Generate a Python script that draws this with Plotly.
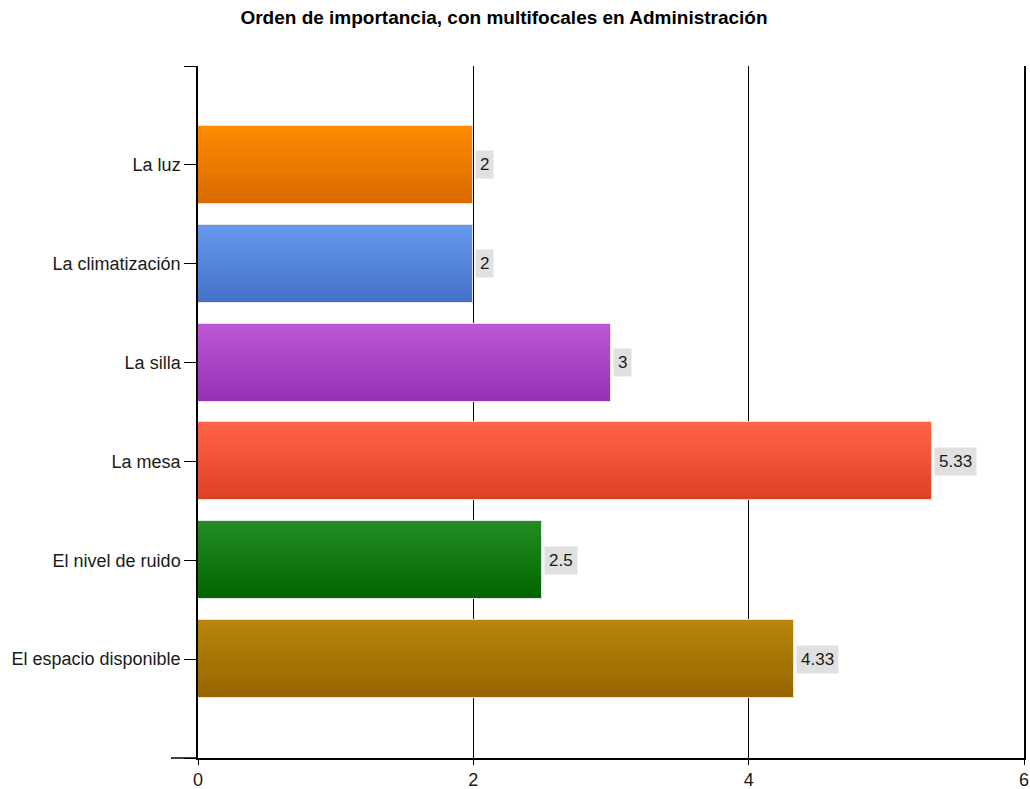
import plotly.graph_objects as go

categories = ["La luz", "La climatización", "La silla", "La mesa", "El nivel de ruido", "El espacio disponible"]
values = [2, 2, 3, 5.33, 2.5, 4.33]
top_colors = ["#ff8c00", "#6699ee", "#bb58d6", "#ff6448", "#238c23", "#b8860b"]
bottom_colors = ["#d96800", "#4470c8", "#9630b4", "#dc4024", "#006400", "#966400"]
x_ticks = [0, 2, 4, 6]

def hex2rgb(h):
    h = h.lstrip("#")
    return tuple(int(h[i:i + 2], 16) for i in (0, 2, 4))

def mix(c1, c2, t):
    a, b = hex2rgb(c1), hex2rgb(c2)
    return "rgb(%d,%d,%d)" % tuple(round(a[i] + (b[i] - a[i]) * t) for i in range(3))

idx = list(range(len(categories)))
BW = 0.79
N = 16
fig = go.Figure()
for k in range(N):
    t = (k + 0.5) / N
    fig.add_trace(go.Bar(
        x=values, y=idx, orientation="h",
        width=BW / N + (0.003 if k < N - 1 else 0), offset=-BW / 2 + k * BW / N,
        marker=dict(color=[mix(a, b, t) for a, b in zip(top_colors, bottom_colors)], line=dict(width=0)),
        showlegend=False, hoverinfo="skip",
    ))
# light outline
fig.add_trace(go.Bar(
    x=values, y=idx, orientation="h", width=BW, offset=-BW / 2,
    marker=dict(color="rgba(0,0,0,0)", line=dict(color="#e4e4e4", width=1)),
    text=categories, hovertemplate="%{text}: %{x}<extra></extra>", textposition="none",
    showlegend=False,
))

for i, v in enumerate(values):
    fig.add_annotation(x=v, y=i, xref="x", yref="y", text=f"{v:g}", showarrow=False,
                       xanchor="left", xshift=2, bgcolor="#e0e0e0", borderpad=4,
                       font=dict(family="Liberation Sans, Arial", size=17, color="#1a1a1a"))

ML, MR = 198, 6
PLOT_W = 1030 - ML - MR
fig.add_shape(type="line", xref="paper", yref="paper",
              x0=-27 / PLOT_W, x1=0, y0=0, y1=0, line=dict(color="black", width=1.5))

fig.update_layout(
    width=1030, height=789,
    margin=dict(l=ML, r=MR, t=66, b=31),
    paper_bgcolor="white", plot_bgcolor="white",
    barmode="overlay", bargap=0,
    title=dict(text="<b>Orden de importancia, con multifocales en Administración</b>",
               x=504 / 1030, xanchor="center", y=1 - 17 / 789, yanchor="middle",
               font=dict(family="Liberation Sans, Arial", size=19, color="black")),
    font=dict(family="Liberation Sans, Arial", size=18, color="#1a1a1a"),
    xaxis=dict(range=[0, 6], tickvals=x_ticks, showgrid=True, gridcolor="black", gridwidth=1,
               showline=True, linecolor="black", linewidth=1.5, ticks="outside", ticklen=5,
               tickcolor="black", zeroline=False, tickfont=dict(size=18), automargin=False),
    yaxis=dict(range=[6, -1], tickvals=[-1] + idx + [6], ticktext=[""] + categories + [""],
               showgrid=False, showline=True, mirror=True, linecolor="black", linewidth=1.5,
               ticks="outside", ticklen=12, tickcolor="black", zeroline=False,
               tickfont=dict(size=18), automargin=False),
)

fig.write_html("out.html", config={"displayModeBar": False},
               post_script="document.body.style.margin='0';document.body.style.overflow='hidden';")
